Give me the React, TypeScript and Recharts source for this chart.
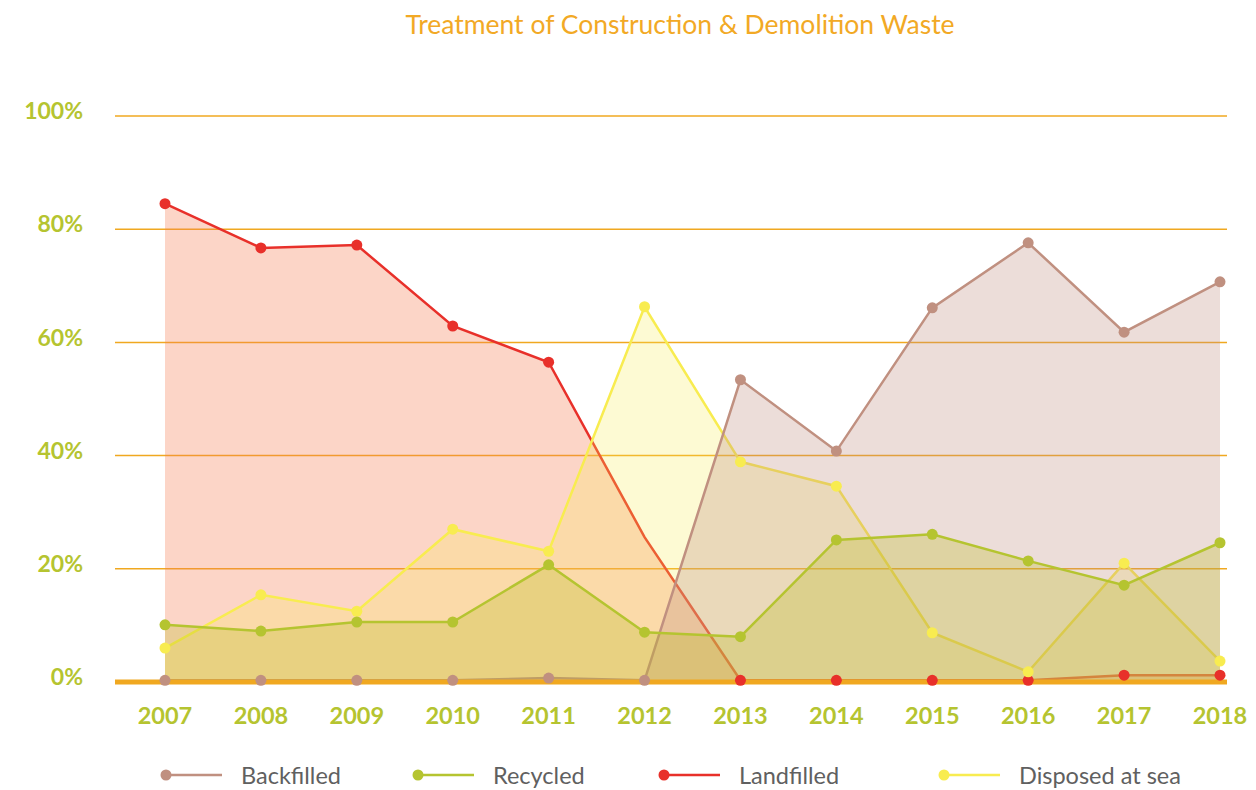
import {
  Area,
  CartesianGrid,
  ComposedChart,
  ReferenceLine,
  XAxis,
  YAxis,
} from "recharts";

const years = [2007, 2008, 2009, 2010, 2011, 2012, 2013, 2014, 2015, 2016, 2017, 2018];
const backfilled = [0.3, 0.3, 0.3, 0.3, 0.7, 0.3, 53.4, 40.8, 66.1, 77.6, 61.8, 70.7];
const recycled = [10.1, 9.0, 10.6, 10.6, 20.7, 8.8, 8.0, 25.1, 26.1, 21.4, 17.1, 24.6];
const landfilled = [84.5, 76.7, 77.2, 62.9, 56.5, 25.6, 0.3, 0.3, 0.3, 0.3, 1.2, 1.2];
const disposedAtSea = [6.0, 15.4, 12.5, 27.0, 23.1, 66.3, 38.9, 34.6, 8.7, 1.8, 21.0, 3.7];
const yTicks = [0, 20, 40, 60, 80, 100];

const data = years.map((year, i) => ({
  year,
  backfilled: backfilled[i],
  recycled: recycled[i],
  landfilled: landfilled[i],
  disposed: disposedAtSea[i],
}));

const series = [
  { key: "landfilled", name: "Landfilled", color: "#e8302a", fill: "#f77b52", opacity: 0.32 },
  { key: "disposed", name: "Disposed at sea", color: "#f8ec50", fill: "#f8ec50", opacity: 0.25 },
  { key: "backfilled", name: "Backfilled", color: "#c09080", fill: "#c09080", opacity: 0.3 },
  { key: "recycled", name: "Recycled", color: "#b5c430", fill: "#bdbd25", opacity: 0.3 },
];

const legendItems = [
  { name: "Backfilled", color: "#c09080", left: 160 },
  { name: "Recycled", color: "#b5c430", left: 412 },
  { name: "Landfilled", color: "#e8302a", left: 658 },
  { name: "Disposed at sea", color: "#f8ec50", left: 938 },
];

const FONT = "Lato, 'Open Sans', sans-serif";
const GREEN = "#b5c430";

// the original skips the 2012 marker on the landfilled line
const makeDot = (key: string, color: string) => (props: any) => {
  const { cx, cy, index } = props;
  if (key === "landfilled" && years[index] === 2012) return <g key={`d-${key}-${index}`} />;
  return <circle key={`d-${key}-${index}`} cx={cx} cy={cy} r={5.5} fill={color} />;
};

export default function App() {
  return (
    <div
      style={{
        position: "relative",
        width: 1256,
        height: 790,
        margin: "-8px -8px 0 -8px",
        fontFamily: FONT,
      }}
    >
      <div
        style={{
          position: "absolute",
          top: 8,
          left: 280,
          width: 800,
          textAlign: "center",
          fontSize: 26.5,
          lineHeight: "32px",
          color: "#f2a925",
        }}
      >
        Treatment of Construction &amp; Demolition Waste
      </div>
      <ComposedChart
        width={1256}
        height={790}
        data={data}
        margin={{ top: 116, right: 29, bottom: 68, left: 0 }}
      >
        <CartesianGrid vertical={false} stroke="#f0a820" strokeWidth={1.5} />
        <XAxis
          dataKey="year"
          height={40}
          padding={{ left: 50, right: 7 }}
          tickLine={false}
          axisLine={false}
          tickSize={0}
          tickMargin={25}
          interval={0}
          tick={{ fill: GREEN, fontSize: 23.5, fontWeight: 700, fontFamily: FONT }}
        />
        <YAxis
          width={115}
          domain={[0, 100]}
          ticks={yTicks}
          tickFormatter={(v) => `${v}%`}
          tickLine={false}
          axisLine={false}
          tickSize={0}
          tickMargin={32}
          tick={{ fill: GREEN, fontSize: 23, fontWeight: 700, fontFamily: FONT, dy: -5 }}
        />
        <ReferenceLine y={0} stroke="#f0a820" strokeWidth={5} />
        {series.map((s) => (
          <Area
            key={s.key}
            type="linear"
            dataKey={s.key}
            name={s.name}
            stroke={s.color}
            strokeWidth={2.5}
            fill={s.fill}
            fillOpacity={s.opacity}
            dot={makeDot(s.key, s.color)}
            activeDot={false}
            isAnimationActive={false}
          />
        ))}
      </ComposedChart>
      {legendItems.map((item) => (
        <div
          key={item.name}
          style={{
            position: "absolute",
            left: item.left,
            top: 761,
            height: 28,
            display: "flex",
            alignItems: "center",
            fontSize: 23.5,
            color: "#606060",
            whiteSpace: "nowrap",
          }}
        >
          <svg width={64} height={14} style={{ marginRight: 17 }}>
            <line x1={6} y1={7} x2={62} y2={7} stroke={item.color} strokeWidth={2.5} />
            <circle cx={6} cy={7} r={5.5} fill={item.color} />
          </svg>
          {item.name}
        </div>
      ))}
    </div>
  );
}
